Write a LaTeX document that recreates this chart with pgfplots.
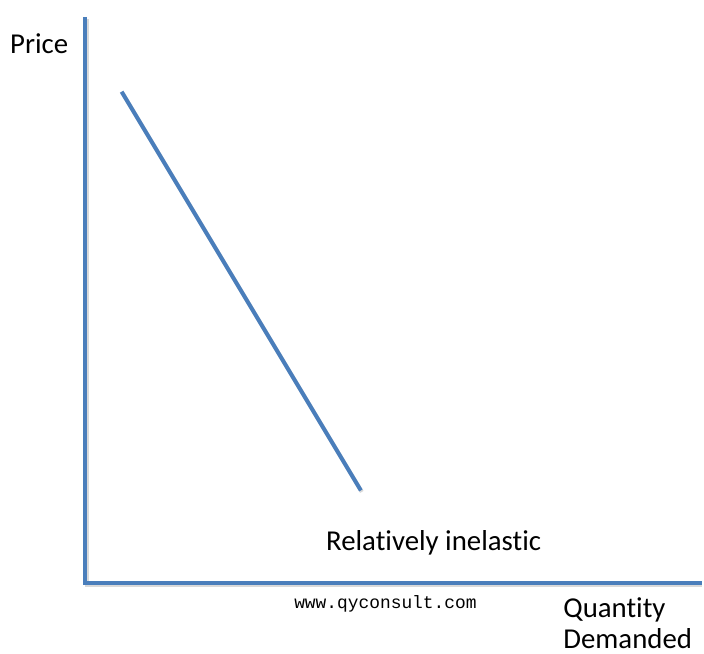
\documentclass[border=0pt]{standalone}
\usepackage{pgfplots}
\pgfplotsset{compat=1.18}
\usepackage{fontspec}
\setmainfont[Ligatures=NoCommon]{Carlito}
\newfontfamily\urlfont{Liberation Mono}
\definecolor{axblue}{RGB}{74,126,187}
\begin{document}
\begin{tikzpicture}
\begin{axis}[
  scale only axis, width=704bp, height=656bp,
  xmin=0, xmax=704, ymin=0, ymax=656, y dir=reverse,
  hide axis, clip=false]
\path (rel axis cs:0,0) rectangle (rel axis cs:1,1);
% shadows
\addplot[gray!30, line width=3.5bp] coordinates {(87.5,19) (87.5,587.5) (704,587.5)};
% axes
\addplot[axblue, line width=4.5bp] coordinates {(85.5,17) (85.5,585) (704,585)};
% demand curve
\addplot[gray!30, line width=4bp] coordinates {(123,93.5) (363,493.5)};
\addplot[axblue, line width=4bp] coordinates {(122,92) (362,492)};
\node[anchor=base west, inner sep=0pt, font=\fontsize{29}{31}\selectfont] at (axis cs:10,54) {Price};
\node[anchor=base west, inner sep=0pt, font=\fontsize{29}{31}\selectfont] at (axis cs:327,552) {Relatively inelastic};
\node[anchor=base west, inner sep=0pt, font=\urlfont\fontsize{18}{20}\selectfont] at (axis cs:295,610) {www.qyconsult.com};
\node[anchor=base west, inner sep=0pt, font=\fontsize{29}{31}\selectfont] at (axis cs:565,619) {Quantity};
\node[anchor=base west, inner sep=0pt, font=\fontsize{29}{31}\selectfont] at (axis cs:565,651) {Demanded};
\end{axis}
\end{tikzpicture}
\end{document}
